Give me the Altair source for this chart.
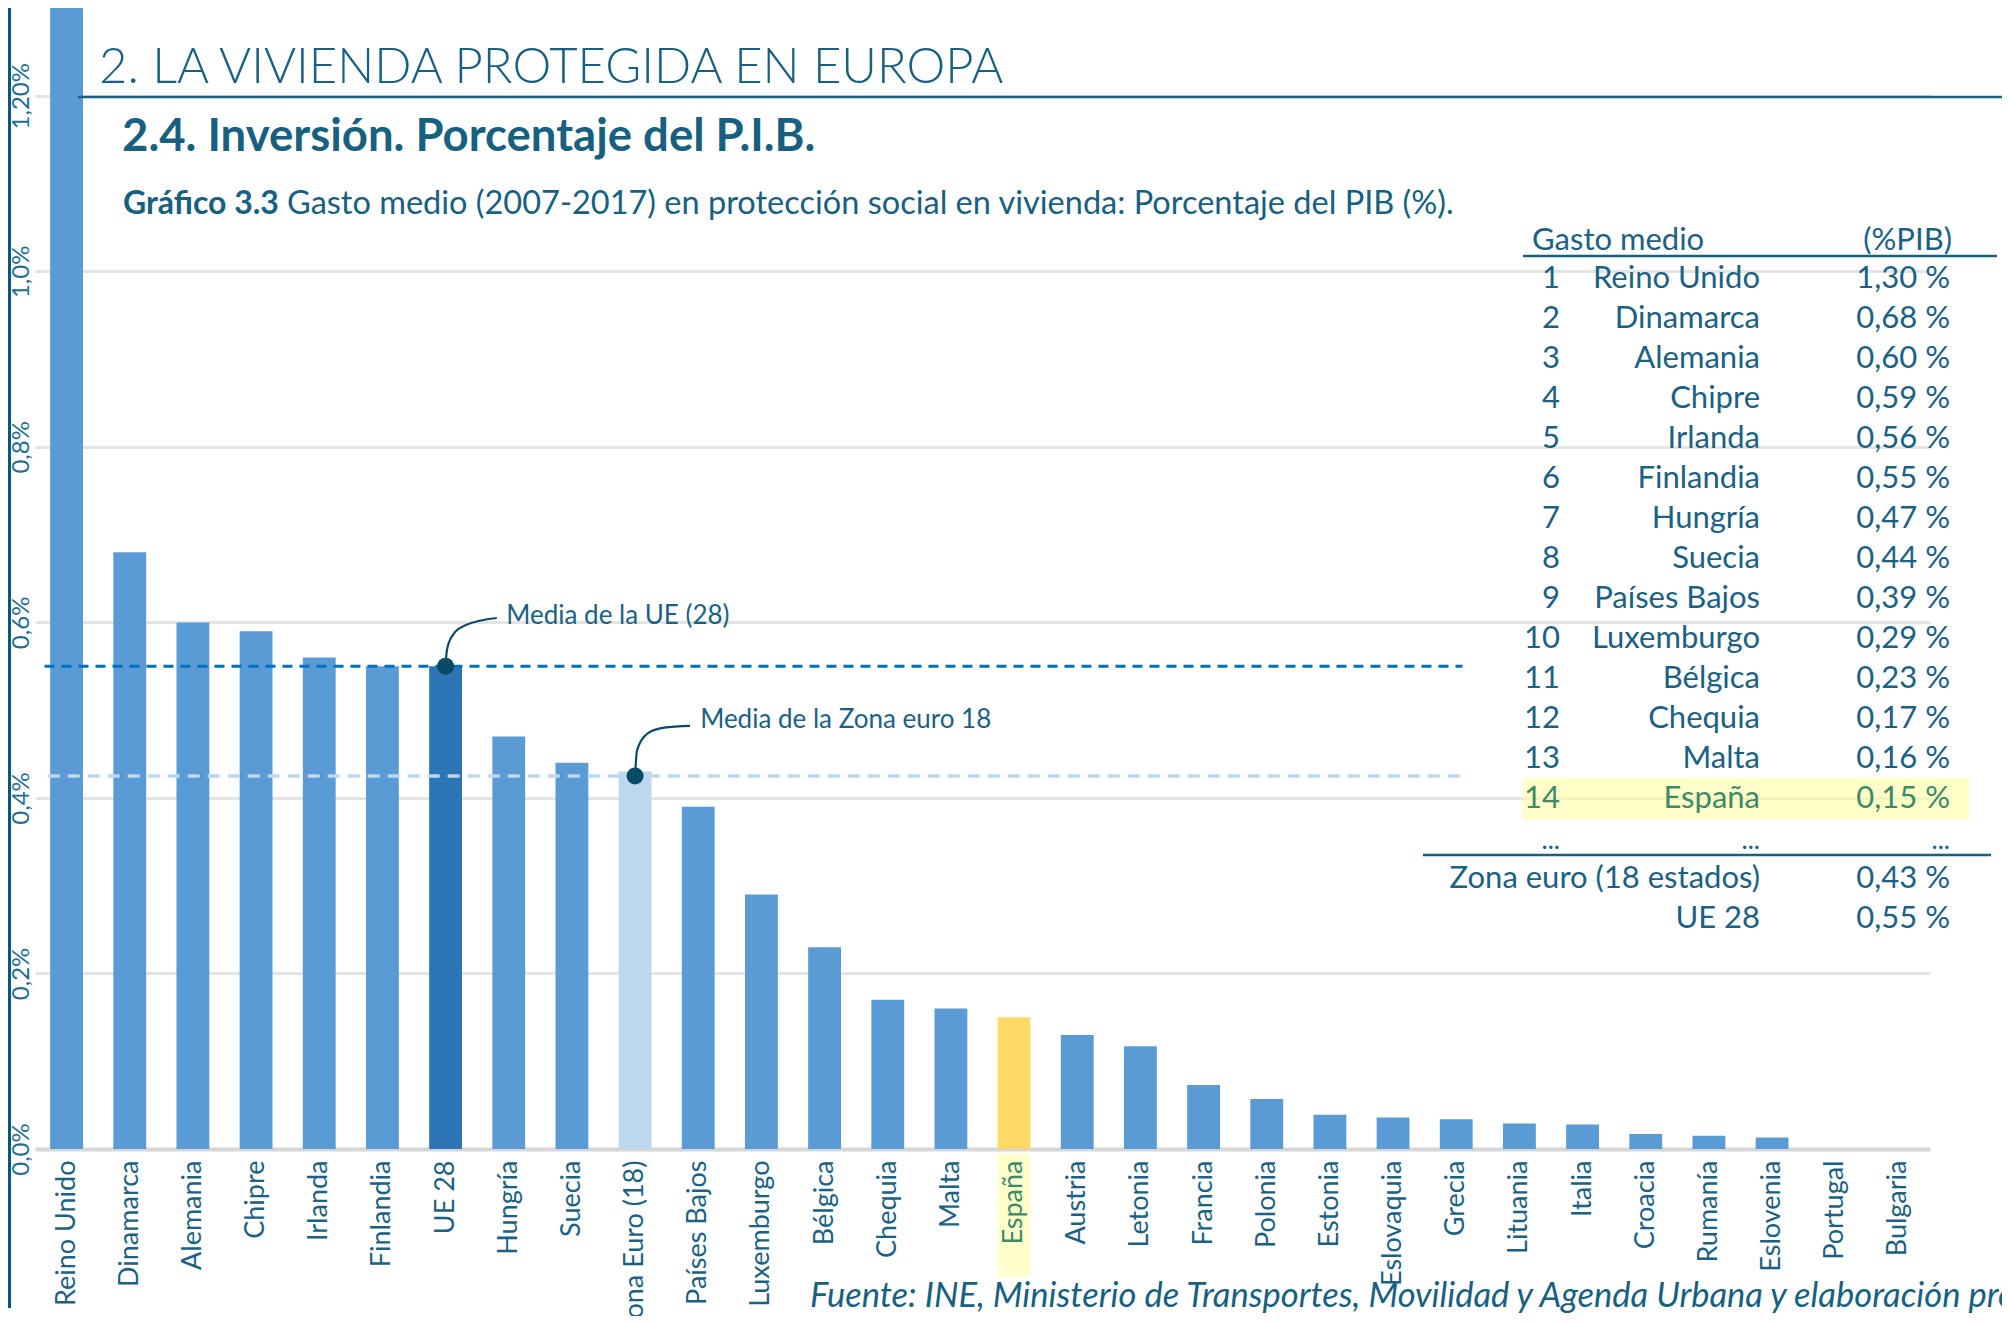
import altair as alt
import pandas as pd

# ---------------- data ----------------
countries = ["Reino Unido", "Dinamarca", "Alemania", "Chipre", "Irlanda", "Finlandia",
             "UE 28", "Hungría", "Suecia", "Zona Euro (18)", "Países Bajos", "Luxemburgo",
             "Bélgica", "Chequia", "Malta", "España", "Austria", "Letonia", "Francia",
             "Polonia", "Estonia", "Eslovaquia", "Grecia", "Lituania", "Italia", "Croacia",
             "Rumanía", "Eslovenia", "Portugal", "Bulgaria"]
values = [1.30, 0.68, 0.60, 0.59, 0.56, 0.55, 0.55, 0.47, 0.44, 0.43, 0.39, 0.29,
          0.23, 0.17, 0.16, 0.15, 0.13, 0.117, 0.073, 0.057, 0.039, 0.036, 0.034,
          0.029, 0.028, 0.017, 0.015, 0.013, 0.0, 0.0]
ue_mean = 0.55
ez_mean = 0.425

table_rank = [str(i) for i in range(1, 15)]
table_country = ["Reino Unido", "Dinamarca", "Alemania", "Chipre", "Irlanda", "Finlandia",
                 "Hungría", "Suecia", "Países Bajos", "Luxemburgo", "Bélgica", "Chequia",
                 "Malta", "España"]
table_value = ["1,30 %", "0,68 %", "0,60 %", "0,59 %", "0,56 %", "0,55 %", "0,47 %",
               "0,44 %", "0,39 %", "0,29 %", "0,23 %", "0,17 %", "0,16 %", "0,15 %"]
summary_label = ["Zona euro (18 estados)", "UE 28"]
summary_value = ["0,43 %", "0,55 %"]

y_ticks = [0.0, 0.2, 0.4, 0.6, 0.8, 1.0, 1.2]

# ---------------- style ----------------
FONT = "Lato"
TEAL = "#17607f"
TXT = "#1a6183"
GREEN = "#3c8a68"
W, H = 1895, 1141
N = len(countries)

special = {"UE 28": "#2e75b6", "Zona Euro (18)": "#bdd7ee", "España": "#ffd966"}
bar_colors = [special.get(c, "#5b9bd5") for c in countries]

yscale = alt.Scale(domain=[0, 1.3], nice=False, zero=False)
xband = alt.Scale(domain=countries, paddingInner=0.48, paddingOuter=0.24)
xq = alt.Scale(domain=[0, N], nice=False, zero=False)
rowscale = alt.Scale(domain=[0, 1], range=[280, 320], nice=False, zero=False)

bars_df = pd.DataFrame({"pais": countries, "valor": values})


def txt(text, x, y, size, color=TEAL, align="left", **kw):
    return alt.Chart(pd.DataFrame({"t": [text]})).mark_text(
        align=align, baseline="alphabetic", font=FONT, fontSize=size, color=color, **kw
    ).encode(x=alt.value(x), y=alt.value(y), text="t:N")


def hline(x1, x2, y, color=TEAL, width=2.5):
    return alt.Chart(pd.DataFrame({"a": [0]})).mark_rule(color=color, strokeWidth=width).encode(
        x=alt.value(x1), x2=alt.value(x2), y=alt.value(y))


# left stripe
stripe = alt.Chart(pd.DataFrame({"a": [0]})).mark_rect(color="#005a80").encode(
    x=alt.value(-27), x2=alt.value(-24), y=alt.value(-8), y2=alt.value(1300))

# highlight behind España label
es_hl = alt.Chart(bars_df[bars_df.pais == "España"]).mark_bar(color="#ffffcc").encode(
    x=alt.X("pais:N", scale=xband, sort=None, axis=None),
    y=alt.value(1146), y2=alt.value(1269))

bars = alt.Chart(bars_df).mark_bar().encode(
    x=alt.X("pais:N", sort=None, scale=xband, title=None,
            axis=alt.Axis(labelAngle=270, labelFontSize=27, labelFont=FONT,
                          labelColor=alt.ExprRef("datum.value == 'España' ? '#3c8a68' : '#1a6183'"),
                          labelPadding=11, ticks=False, domain=False, labelLimit=400, zindex=1)),
    y=alt.Y("valor:Q", scale=yscale, title=None,
            axis=alt.Axis(values=y_ticks, labelAngle=270, labelFontSize=24, labelFont=FONT,
                          labelColor="#1f6e91", labelPadding=2, ticks=False, domain=False,
                          labelFlush=True,
                          labelExpr="datum.value == 1.2 ? '1,20%' : replace(format(datum.value, '.1f'), '.', ',') + '%'",
                          gridColor=alt.condition("datum.value == 0", alt.value("#d6d6d6"), alt.value("#e4e4e4")),
                          gridWidth=alt.condition("datum.value == 0", alt.value(4), alt.value(3)))),
    color=alt.Color("pais:N", scale=alt.Scale(domain=countries, range=bar_colors), legend=None),
)

# mean lines
mean_df = pd.DataFrame({"x0": [0.15, 0.2], "x1": [22.6, 22.6], "v": [ue_mean, ez_mean],
                        "g": ["ue", "ez"]})
ue_line = alt.Chart(mean_df[mean_df.g == "ue"]).mark_rule(
    color="#0070c0", strokeWidth=3, strokeDash=[10, 7]).encode(
    x=alt.X("x0:Q", scale=xq, axis=None), x2="x1:Q",
    y=alt.Y("v:Q", scale=yscale, axis=None))
ez_line = alt.Chart(mean_df[mean_df.g == "ez"]).mark_rule(
    color="#bdd7ee", strokeWidth=3.5, strokeDash=[12, 8]).encode(
    x=alt.X("x0:Q", scale=xq, axis=None), x2="x1:Q",
    y=alt.Y("v:Q", scale=yscale, axis=None))

# connectors (category index units, value units)
curve_df = pd.DataFrame({
    "ix": [6.5, 6.52, 6.6, 6.82, 7.31, 9.5, 9.53, 9.69, 9.96, 10.37],
    "v": [ue_mean, 0.568, 0.584, 0.597, 0.605, ez_mean, 0.454, 0.473, 0.480, 0.482],
    "g": ["ue"] * 5 + ["ez"] * 5,
})
curves = alt.Chart(curve_df).mark_line(interpolate="monotone", color="#0b4a66", strokeWidth=2.2).encode(
    x=alt.X("ix:Q", scale=xq, axis=None), y=alt.Y("v:Q", scale=yscale, axis=None), detail="g:N")

dot_df = pd.DataFrame({"ix": [6.5, 9.5], "v": [ue_mean, ez_mean]})
dots = alt.Chart(dot_df).mark_circle(color="#0b4a66", opacity=1, size=290).encode(
    x=alt.X("ix:Q", scale=xq, axis=None), y=alt.Y("v:Q", scale=yscale, axis=None))

ann_df = pd.DataFrame({"ix": [7.46, 10.53], "v": [0.607, 0.489],
                       "t": ["Media de la UE (28)", "Media de la Zona euro 18"]})
ann_text = alt.Chart(ann_df).mark_text(align="left", baseline="middle", font=FONT,
                                       fontSize=26, color=TXT).encode(
    x=alt.X("ix:Q", scale=xq, axis=None), y=alt.Y("v:Q", scale=yscale, axis=None), text="t:N")

# ---------------- table ----------------
tab_df = pd.DataFrame({"row": list(range(14)), "rank": table_rank,
                       "country": table_country, "value": table_value})
tab_df["es"] = tab_df["country"] == "España"
col = alt.condition("datum.es", alt.value(GREEN), alt.value(TXT))

es_row = alt.Chart(pd.DataFrame({"r0": [13 - 0.75], "r1": [13 + 0.28]})).mark_rect(
    color="#ffff99", opacity=0.55).encode(
    x=alt.value(1488), x2=alt.value(1934),
    y=alt.Y("r0:Q", scale=rowscale, axis=None), y2="r1:Q")


def tcol(field, x):
    return alt.Chart(tab_df).mark_text(align="right", baseline="alphabetic", font=FONT,
                                       fontSize=31).encode(
        x=alt.value(x), y=alt.Y("row:Q", scale=rowscale, axis=None), text=f"{field}:N", color=col)


sum_df = pd.DataFrame({"row": [15, 16], "label": summary_label, "value": summary_value})
dots_df = pd.DataFrame({"row": [14.03] * 3, "t": ["...", "...", "..."], "x": [1525, 1725, 1915]})


def scol(field, x):
    return alt.Chart(sum_df).mark_text(align="right", baseline="alphabetic", font=FONT,
                                       fontSize=31, color=TXT).encode(
        x=alt.value(x), y=alt.Y("row:Q", scale=rowscale, axis=None), text=f"{field}:N")


ell = alt.Chart(dots_df).mark_text(align="right", baseline="alphabetic", font=FONT,
                                   fontSize=26, color=TXT).encode(
    x=alt.X("x:Q", scale=alt.Scale(domain=[0, W], range=[0, W], nice=False, zero=False), axis=None),
    y=alt.Y("row:Q", scale=rowscale, axis=None), text="t:N")

layers = [
    stripe, es_hl, bars, ue_line, ez_line, curves, dots, ann_text,
    es_row, tcol("rank", 1525), tcol("country", 1725), tcol("value", 1915),
    ell, scol("label", 1725), scol("value", 1915),
    txt("Gasto medio", 1497, 242, 31, color=TXT),
    txt("(%PIB)", 1917, 242, 31, color=TXT, align="right"),
    hline(1488, 1962, 248, width=2.5),
    hline(1388, 1956, 847, width=2.5),
    txt("2. LA VIVIENDA PROTEGIDA EN EUROPA", 64, 75, 49, fontWeight=300),
    hline(43, 1967, 89, width=2.5),
    txt("2.4. Inversión. Porcentaje del P.I.B.", 87, 143, 45.5, fontWeight="bold"),
    txt("Gráfico 3.3", 88, 206, 32, fontWeight="bold"),
    txt("Gasto medio (2007-2017) en protección social en vivienda: Porcentaje del PIB (%).",
        252, 206, 32.5),
    txt("Fuente: INE, Ministerio de Transportes, Movilidad y Agenda Urbana y elaboración propia.",
        775, 1299, 34.5, fontStyle="italic"),
]

chart = alt.layer(*layers).resolve_scale(
    x="independent", y="independent", color="independent"
).properties(
    width=W, height=H,
    padding={"left": 27, "top": 0, "right": 72, "bottom": 167},
    autosize=alt.AutoSizeParams(type="none"),
).configure_view(stroke=None)

chart.save("out.html", embed_options={"renderer": "svg", "actions": False})
